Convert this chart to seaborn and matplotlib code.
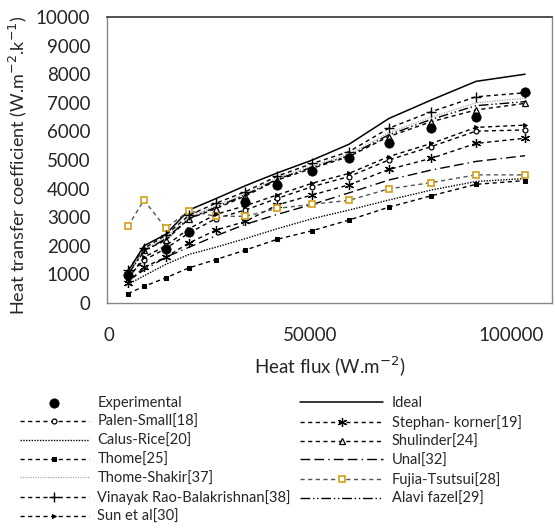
import numpy as np
import pandas as pd
import matplotlib
matplotlib.use('Agg')
import matplotlib.pyplot as plt
import seaborn as sns

sns.set_theme(style='white')
plt.rcParams['font.family'] = ['Lato', 'DejaVu Sans']

# Heat flux grid (W.m-2)
flux = [4700, 8700, 14100, 19900, 26600, 33900, 41900, 50600, 59700, 69600, 80200, 91300, 103500]

exp_flux = [4700, 14100, 19900, 33900, 41900, 50600, 59700, 69600, 80200, 91300, 103500]
experimental = [970, 1900, 2500, 3540, 4130, 4620, 5060, 5610, 6110, 6510, 7390]

ideal = [1100, 2000, 2400, 3250, 3650, 4100, 4550, 5000, 5550, 6450, 7100, 7750, 8000]
palen_small = [900, 1500, 1900, 2450, 2950, 3250, 3660, 4070, 4420, 5000, 5470, 6010, 6050]
stephan_korner = [700, 1250, 1600, 2100, 2550, 2850, 3430, 3780, 4130, 4670, 5060, 5580, 5760]
calus_rice = [650, 950, 1350, 1700, 1950, 2250, 2600, 2950, 3250, 3600, 3950, 4250, 4350]
shulinder = [1020, 1840, 2190, 2950, 3300, 3740, 4300, 4710, 5120, 5820, 6340, 6750, 6980]
thome = [330, 580, 880, 1230, 1520, 1850, 2230, 2530, 2900, 3350, 3750, 4150, 4280]
unal = [800, 1150, 1600, 1950, 2350, 2750, 3100, 3450, 3850, 4300, 4650, 4950, 5150]
thome_shakir = [1050, 1870, 2300, 3000, 3400, 3820, 4380, 4800, 5200, 5950, 6500, 7000, 7160]
fujia_tsutsui = [2680, 3600, 2620, 3220, 3030, 3030, 3310, 3450, 3590, 3990, 4210, 4480, 4480]
vinayak = [1150, 1910, 2370, 3070, 3490, 3890, 4440, 4880, 5290, 6110, 6690, 7210, 7350]
alavi_fazel = [1000, 1800, 2250, 2950, 3350, 3780, 4330, 4750, 5150, 5880, 6420, 6900, 7040]
sun_et_al = [850, 1600, 2000, 2600, 3100, 3400, 3780, 4190, 4530, 5120, 5580, 6140, 6220]

short_dash = (0, (3, 2.5))
gold = '#D4A017'
txt = '#262626'

fig = plt.figure(figsize=(5.55, 5.28), dpi=100)
ax = fig.add_axes([107 / 555, 1 - 303 / 528, (552 - 107) / 555, (303 - 17) / 528])

def line(y, label, **kw):
    kw.setdefault('color', 'black')
    kw.setdefault('linewidth', 1.0)
    sns.lineplot(x=flux, y=y, ax=ax, label=label, sort=False, **kw)

line(ideal, 'Ideal', linestyle='-', linewidth=1.1)
line(palen_small, 'Palen-Small[18]', linestyle=short_dash, marker='o',
     markersize=3.5, markerfacecolor='white', markeredgecolor='black', markeredgewidth=0.9)
line(stephan_korner, 'Stephan- korner[19]', linestyle=short_dash, marker=(6, 2, 0),
     markersize=6.5, markeredgecolor='black', markeredgewidth=0.9)
line(calus_rice, 'Calus-Rice[20]', linestyle=(0, (1, 1)), linewidth=1.0)
line(shulinder, 'Shulinder[24]', linestyle=short_dash, marker='^',
     markersize=5, markerfacecolor='white', markeredgecolor='black', markeredgewidth=0.9)
line(thome, 'Thome[25]', linestyle=short_dash, marker='s',
     markersize=2.2, markeredgecolor='black')
line(unal, 'Unal[32]', linestyle=(0, (7, 3, 7, 3, 1, 3)))
line(thome_shakir, 'Thome-Shakir[37]', linestyle=(0, (1, 1)), color='#a8a8a8', linewidth=0.9)
line(fujia_tsutsui, 'Fujia-Tsutsui[28]', linestyle=short_dash, color='#555555', marker='s',
     markersize=4.5, markerfacecolor='white', markeredgecolor=gold, markeredgewidth=1.2)
line(vinayak, 'Vinayak Rao-Balakrishnan[38]', linestyle=short_dash, marker='+',
     markersize=7, markeredgecolor='black', markeredgewidth=1.0)
line(alavi_fazel, 'Alavi fazel[29]', linestyle=(0, (7, 2, 1, 2, 1, 2)))
line(sun_et_al, 'Sun et al[30]', linestyle=short_dash, marker='>',
     markersize=2.8, markeredgecolor='black')

sns.scatterplot(x=exp_flux, y=experimental, ax=ax, color='black', s=45,
                edgecolor='black', label='Experimental', zorder=5)

ax.set_xlim(-500, 110200)
ax.set_ylim(0, 10000)
ax.set_xticks([0, 50000, 100000])
ax.set_yticks(np.arange(0, 10001, 1000))
ax.tick_params(axis='both', direction='in', length=5, width=0.8, color='#888888',
               labelsize=13.5, labelcolor=txt)
ax.tick_params(axis='y', pad=12)
ax.tick_params(axis='x', pad=17)
for side in ['left', 'right', 'bottom']:
    ax.spines[side].set_color('#888888')
    ax.spines[side].set_linewidth(1.0)
ax.spines['top'].set_color('#333333')
ax.spines['top'].set_linewidth(1.2)

ax.set_xlabel('Heat flux (W.m$^{-2}$)', fontsize=13.5, color=txt, labelpad=8)
ax.set_ylabel('Heat transfer coefficient (W.m$^{-2}$.k$^{-1}$)', fontsize=13,
              color=txt)
ax.yaxis.set_label_coords(-0.175, 0.48)

handles, labels = ax.get_legend_handles_labels()
lookup = dict(zip(labels, handles))
ax.get_legend().remove()

left_col = ['Experimental', 'Palen-Small[18]', 'Calus-Rice[20]', 'Thome[25]',
            'Thome-Shakir[37]', 'Vinayak Rao-Balakrishnan[38]', 'Sun et al[30]']
right_col = ['Ideal', 'Stephan- korner[19]', 'Shulinder[24]', 'Unal[32]',
             'Fujia-Tsutsui[28]', 'Alavi fazel[29]']

common = dict(frameon=False, fontsize=10.5, handletextpad=0.6,
              labelspacing=0.33, borderpad=0, borderaxespad=0, numpoints=1,
              loc='upper left', labelcolor=txt)
fig.legend([lookup[k] for k in left_col], left_col, handlelength=4.7,
           bbox_to_anchor=(20 / 555, 1 - 396 / 528), **common)
fig.legend([lookup[k] for k in right_col], right_col, handlelength=5.7,
           bbox_to_anchor=(300 / 555, 1 - 396 / 528), **common)

fig.savefig('out.png', dpi=100)
